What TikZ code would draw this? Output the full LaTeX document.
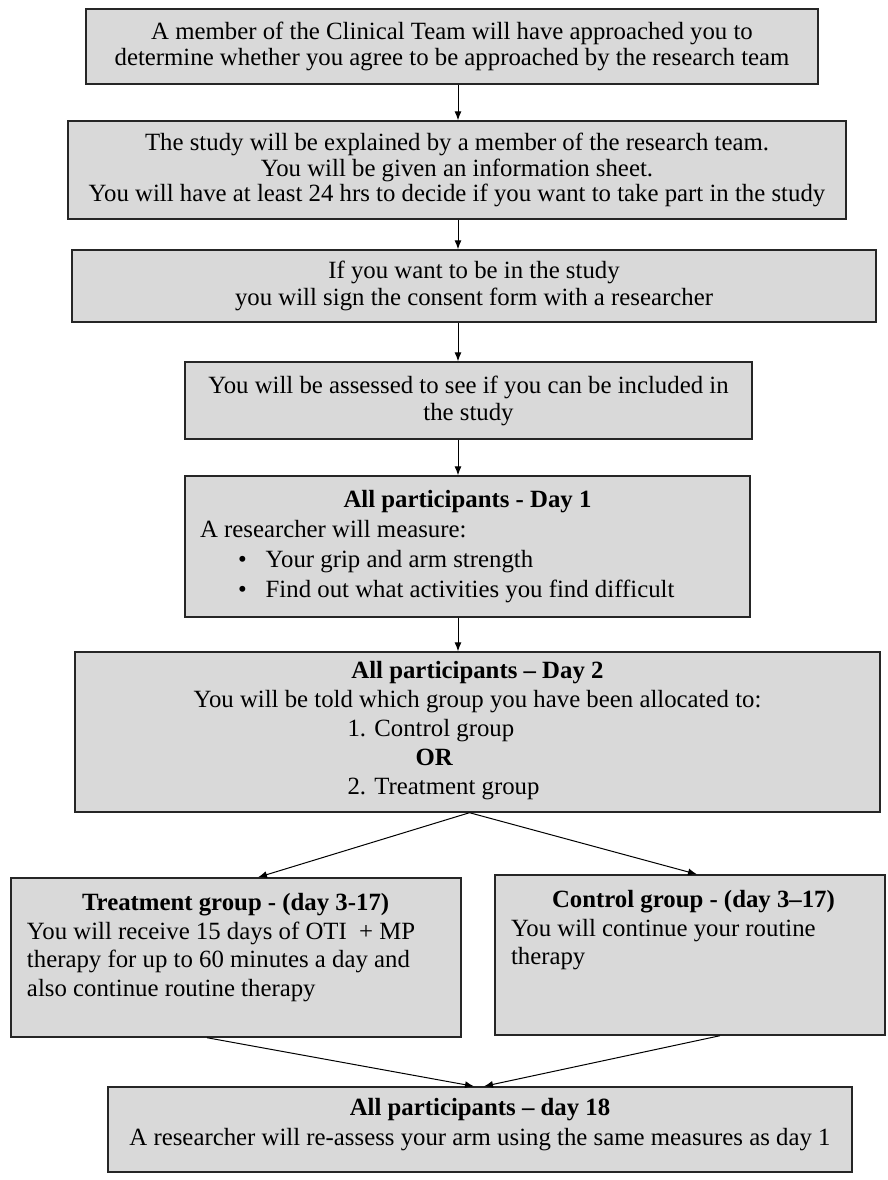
\documentclass[tikz,border=0pt]{standalone}
\usepackage{fontspec}
\setmainfont{Liberation Serif}
\usetikzlibrary{arrows.meta,positioning}
\newcommand{\bfnt}[1]{\fontsize{24.8}{#1}\selectfont}
\begin{document}
\begin{tikzpicture}[x=1pt,y=-1pt,
  box/.style={draw=black!85,line width=1.4pt,fill=gray!30,inner sep=0pt,align=center},
  arr/.style={-{Latex[length=9pt,width=7pt]},line width=1pt}]
  \useasboundingbox (0,0) rectangle (888,1180);
  % Passi iniziali
  \node[box,font=\bfnt{25.5},minimum width=732pt,minimum height=75pt] (approach) at (452,46.5)
    {A member of the Clinical Team will have approached you to\\
     determine whether you agree to be approached by the research team};
  \node[box,font=\bfnt{25.5},minimum width=778pt,minimum height=98pt] (explain) at (457,170)
    {The study will be explained by a member of the research team.\\
     You will be given an information sheet.\\
     You will have at least 24 hrs to decide if you want to take part in the study};
  \node[box,font=\bfnt{27},minimum width=804pt,minimum height=72pt] (consent) at (474,286)
    {If you want to be in the study\\
     you will sign the consent form with a researcher};
  \node[box,font=\bfnt{27},minimum width=567pt,minimum height=77pt] (assess) at (468.5,400.5)
    {You will be assessed to see if you can be included in\\the study};
  % Giorno 1 e giorno 2
  \node[box,font=\bfnt{30},minimum width=565pt,minimum height=141pt] (day1) at (467.5,546.5)
    {\parbox{535pt}{\centerline{\textbf{All participants - Day 1}}
     A researcher will measure:\\
     \hspace*{38pt}\textbullet\hspace{19pt}Your grip and arm strength\\
     \hspace*{38pt}\textbullet\hspace{19pt}Find out what activities you find difficult}};
  \node[box,font=\bfnt{29},minimum width=805pt,minimum height=160pt] (day2) at (477.5,732)
    {\textbf{All participants – Day 2}\\
     You will be told which group you have been allocated to:\\
     \begin{tabular}[t]{@{}l@{\hspace{68pt}}}
       1. Control group\\
       \hspace*{68pt}\textbf{OR}\\
       2. Treatment group
     \end{tabular}};
  % Gruppi
  \node[box,font=\bfnt{28.5},inner xsep=16pt,inner ysep=15.5pt] (treat) at (236,957.5)
    {\parbox[c][128pt][t]{418pt}{\hspace*{55pt}\textbf{Treatment group - (day 3-17)}\\
     You will receive 15 days of OTI \ + MP\\
     therapy for up to 60 minutes a day and\\
     also continue routine therapy}};
  \node[box,font=\bfnt{28.5},inner xsep=16pt,inner ysep=15.5pt] (ctrl) at (690,955)
    {\parbox[c][129pt][t]{358pt}{\hspace*{41pt}\textbf{Control group - (day 3–17)}\\
     You will continue your routine\\
     therapy}};
  % Giorno 18
  \node[box,font=\bfnt{30},inner xsep=16pt,inner ysep=11.5pt] (day18) at (480,1129.5)
    {\parbox[c][62pt][t]{712pt}{\centering\textbf{All participants – day 18}\\
     A researcher will re-assess your arm using the same measures as day 1}};
  % Frecce
  \coordinate (spine) at (458,0);
  \draw[arr] (approach.south -| spine) -- (explain.north -| spine);
  \draw[arr] (explain.south -| spine) -- (consent.north -| spine);
  \draw[arr] (consent.south -| spine) -- (assess.north -| spine);
  \draw[arr] (assess.south -| spine) -- (day1.north -| spine);
  \draw[arr] (day1.south -| spine) -- (day2.north -| spine);
  \coordinate (split) at ([xshift=-8pt]day2.south);
  \draw[arr] (split) -- ([xshift=22pt]treat.north);
  \draw[arr] (split) -- ([xshift=7pt]ctrl.north);
  \draw[arr] ([xshift=-29pt]treat.south) -- ([xshift=-6pt]day18.north);
  \draw[arr] ([xshift=30pt]ctrl.south) -- ([xshift=4pt]day18.north);
\end{tikzpicture}
\end{document}
